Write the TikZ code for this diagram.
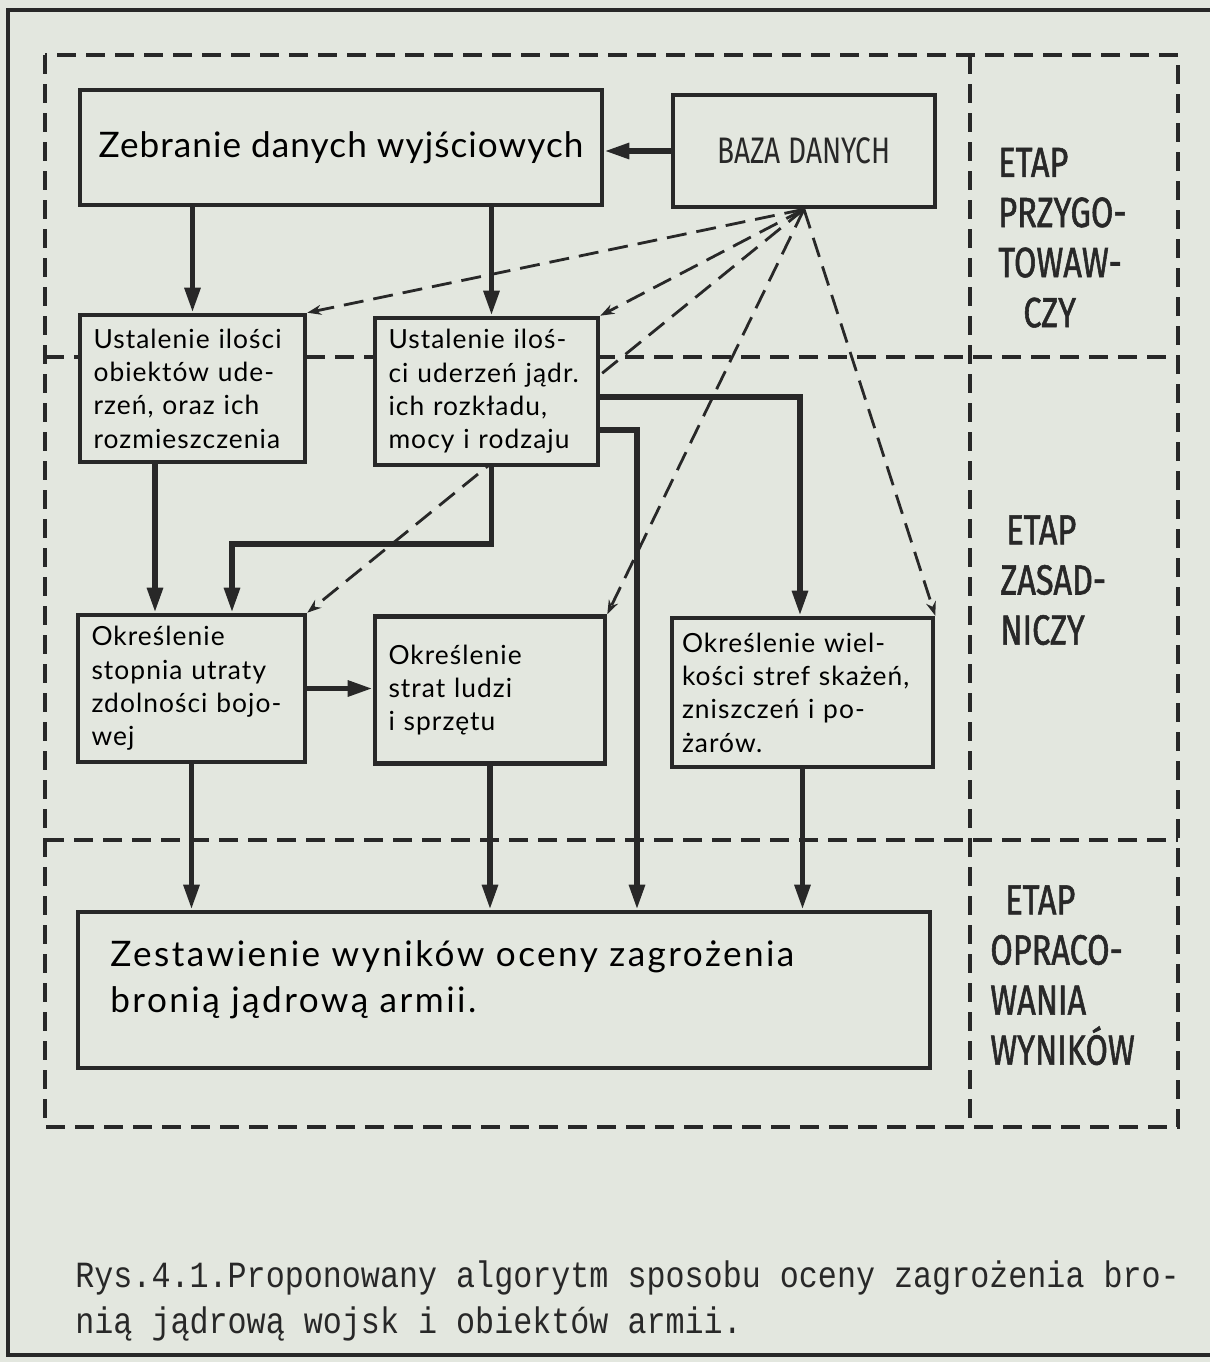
\documentclass[tikz,border=0pt]{standalone}
\usepackage{fontspec}
\usetikzlibrary{arrows.meta,backgrounds}
\setmainfont{Lato}
\newfontfamily\etapfont[FakeStretch=0.77,FakeBold=1.3]{Fira Sans}
\newfontfamily\bazafont[FakeStretch=0.76]{Fira Sans}
\newfontfamily\capfont[FakeStretch=0.86]{Liberation Mono}
\definecolor{paper}{RGB}{227,231,223}
\definecolor{ink}{RGB}{40,40,40}

\begin{document}
\begin{tikzpicture}[
    box/.style={draw=ink, line width=2.6pt, fill=paper},
    smallbox/.style={box, inner xsep=0.27cm, align=left, minimum height=2.94cm,
      font=\addfontfeature{LetterSpace=4}\fontsize{15}{19}\selectfont},
    flow/.style={draw=ink, line width=3.2pt, -{Triangle[length=0.5cm,width=0.3cm]}},
    hint/.style={draw=ink, line width=1.6pt, dash pattern=on 0.4cm off 0.2cm,
      -{Stealth[length=0.28cm,width=0.2cm]}},
    zone/.style={draw=ink, line width=2pt, dash pattern=on 0.38cm off 0.2cm},
    etap/.style={anchor=north west, align=left, inner sep=0pt, text=ink,
      font=\etapfont\fontsize{24}{28.5}\selectfont}
  ]
    \useasboundingbox (0,0) rectangle (24.2,-27.24);
    \begin{pgfonlayer}{background}
      \fill[paper] (0,0) rectangle (24.2,-27.24);
    \end{pgfonlayer}

    % page frame, open on the right
    \draw[ink, line width=2.3pt] (24.2,-0.2) -- (0.16,-0.2) -- (0.16,-27.1) -- (24.2,-27.1);

    % the three stages
    \draw[zone] (0.9,-1.1) rectangle (23.56,-22.54);
    \draw[zone] (19.4,-1.1) -- (19.4,-22.54);
    \draw[zone] (0.9,-7.14) -- (23.56,-7.14);
    \draw[zone] (0.9,-16.8) -- (23.56,-16.8);

    % blocks
    \node[box, minimum width=10.44cm, minimum height=2.3cm,
      font=\addfontfeature{LetterSpace=3}\fontsize{20}{24}\selectfont] (zebr) at (6.82,-2.95)
      {Zebranie danych wyjściowych};
    \node[box, minimum width=5.24cm, minimum height=2.24cm, text=ink,
      font=\bazafont\fontsize{21}{24}\selectfont] (baza) at (16.08,-3.02) {BAZA DANYCH};

    \node[smallbox, text width=3.96cm] (ust1) at (3.85,-7.77)
      {Ustalenie ilości\\obiektów ude-\\rzeń, oraz ich\\rozmieszczenia};
    \node[smallbox, text width=3.92cm] (ust2) at (9.73,-7.83)
      {Ustalenie iloś-\\ci uderzeń jądr.\\ich rozkładu,\\mocy i rodzaju};

    \node[smallbox, text width=4.0cm] (okr1) at (3.83,-13.77)
      {Określenie\\stopnia utraty\\zdolności bojo-\\wej};
    \node[smallbox, text width=4.06cm] (okr2) at (9.8,-13.8)
      {Określenie\\strat ludzi\\i sprzętu\\[0.5cm]};
    \node[smallbox, text width=4.82cm, inner xsep=0.2cm, minimum height=2.98cm] (okr3)
      at (16.05,-13.85) {Określenie wiel-\\kości stref skażeń,\\zniszczeń i po-\\żarów.};

    \node[box, minimum width=17.04cm, minimum height=3.12cm] (zest) at (10.08,-19.8) {};
    \node[anchor=north west, align=left, inner sep=0pt,
      font=\addfontfeature{LetterSpace=7}\fontsize{20}{26.5}\selectfont] (zestlbl) at (2.2,-18.8)
      {Zestawienie wyników oceny zagrożenia\\bronią jądrową armii.};

    % stage names
    \node[etap] (etap1) at (19.96,-2.95) {ETAP\\PRZYGO-\\TOWAW-\\\hspace*{0.5cm}CZY};
    \node[etap] (etap2) at (20.0,-10.3) {\hspace*{0.12cm}ETAP\\ZASAD-\\NICZY};
    \node[etap] (etap3) at (19.8,-17.7) {\hspace*{0.3cm}ETAP\\OPRACO-\\WANIA\\WYNIKÓW};

    % main flow
    \draw[flow] (baza.west) -- (baza.west -| zebr.east);
    \draw[flow] (ust1.north |- zebr.south) -- (ust1.north);
    \draw[flow] ([xshift=0.1cm]ust2.north |- zebr.south) -- ([xshift=0.1cm]ust2.north);
    \draw[flow] ([xshift=-0.73cm]okr1.north |- ust1.south) -- ([xshift=-0.73cm]okr1.north);
    \draw[flow] ([xshift=0.1cm]ust2.south) -- ++(0,-1.54) -| ([xshift=0.81cm]okr1.north);
    \draw[flow] ([yshift=-0.11cm]ust2.east) -| ([xshift=-0.05cm]okr3.north);
    \draw[flow] ([yshift=-0.77cm]ust2.east) -| ([xshift=2.66cm]zest.north);
    \draw[flow] (okr1.east) -- (okr1.east -| okr2.west);
    \draw[flow] (okr1.south) -- (okr1.south |- zest.north);
    \draw[flow] (okr2.south) -- (okr2.south |- zest.north);
    \draw[flow] (okr3.south) -- (okr3.south |- zest.north);

    % data from the base
    \draw[hint] (baza.south) -- (ust1.north east);
    \draw[hint] (baza.south) -- (ust2.north east);
    \begin{pgfonlayer}{background}
      \draw[hint] (baza.south) -- (okr1.north east);
    \end{pgfonlayer}
    \draw[hint] (baza.south) -- (okr2.north east);
    \draw[hint] (baza.south) -- (okr3.north east);

    % caption
    \node[anchor=north west, align=left, inner sep=0pt, text=ink,
      font=\capfont\fontsize{21}{26.5}\selectfont] (caption) at (1.5,-25.2)
      {Rys.4.1.Proponowany algorytm sposobu oceny zagrożenia bro-\\nią jądrową wojsk i obiektów armii.};
\end{tikzpicture}
\end{document}
